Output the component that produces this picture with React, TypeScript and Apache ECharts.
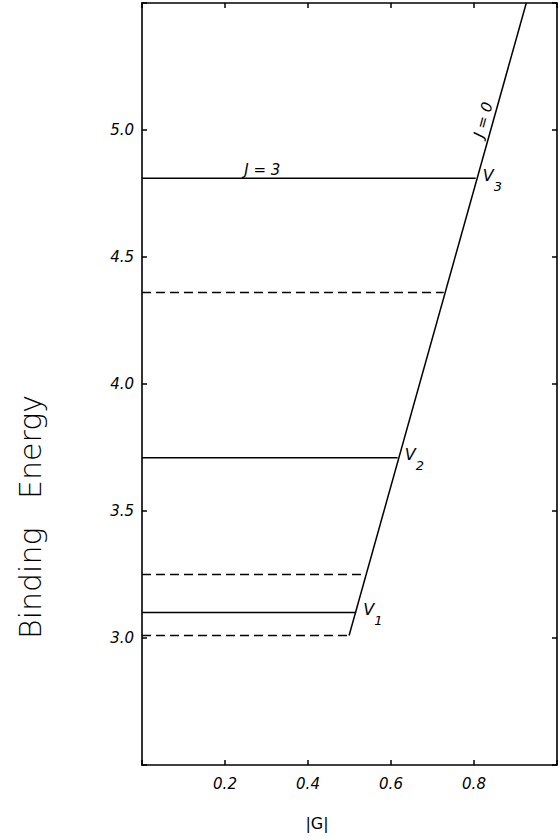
import { useEffect, useRef } from 'react';
import * as echarts from 'echarts';

// X axis: |G|, Y axis: Binding Energy
const xMin = 0;
const xMax = 1.0;
const xInterval = 0.2;
const yMin = 2.5;
const yMax = 5.5;
const yInterval = 0.5;
const xTickLabels = ['0.2', '0.4', '0.6', '0.8'];
const yTickLabels = ['3.0', '3.5', '4.0', '4.5', '5.0'];

// Solid levels (V3, V2, V1) and where they meet the J = 0 line
const solidLevels = [4.81, 3.71, 3.1];
const solidEnds = [0.804, 0.616, 0.516];
const solidNames = ['3', '2', '1'];

// Dashed levels
const dashedLevels = [4.36, 3.25, 3.01];
const dashedEnds = [0.727, 0.54, 0.499];

// J = 0 line
const jZeroX = [0.499, 0.926];
const jZeroY = [3.01, 5.5];

// annotation anchors (data coords)
const jThreeAnchor = [0.29, 4.81];
const jZeroAnchor = [0.844, 5.024];

const FONT = '"DejaVu Sans", sans-serif';

export default function App() {
  const ref = useRef<HTMLDivElement>(null);
  useEffect(() => {
    if (!ref.current) return;
    const chart = echarts.init(ref.current, undefined, { renderer: 'svg' });
    const axisLine = { show: true, onZero: false, lineStyle: { color: '#000', width: 1.6 } };
    const axisTick = { show: true, inside: true, length: 5, lineStyle: { color: '#000', width: 1.5 } };
    const series: any[] = [];
    solidLevels.forEach((lvl, i) => {
      series.push({
        type: 'line',
        symbol: 'none',
        silent: true,
        data: [
          [0, lvl],
          [solidEnds[i], lvl],
        ],
        lineStyle: { color: '#000', width: 1.5, type: 'solid' },
      });
    });
    dashedLevels.forEach((lvl, i) => {
      series.push({
        type: 'line',
        symbol: 'none',
        silent: true,
        data: [
          [0, lvl],
          [dashedEnds[i], lvl],
        ],
        lineStyle: { color: '#000', width: 1.5, type: [9, 5] },
      });
    });
    series.push({
      type: 'line',
      symbol: 'none',
      silent: true,
      data: jZeroX.map((x, i) => [x, jZeroY[i]]),
      lineStyle: { color: '#000', width: 1.5 },
    });

    chart.setOption({
      animation: false,
      backgroundColor: '#fff',
      grid: { left: 142, top: 3, width: 417, height: 762 },
      xAxis: [
        {
          type: 'value',
          min: xMin,
          max: xMax,
          interval: xInterval,
          position: 'bottom',
          axisLine,
          axisTick,
          splitLine: { show: false },
          axisLabel: {
            margin: 11,
            color: '#000',
            fontSize: 15,
            fontStyle: 'italic',
            fontFamily: FONT,
            formatter: (v: number) => {
              const s = v.toFixed(1);
              return xTickLabels.includes(s) ? s : '';
            },
          },
        },
        {
          type: 'value',
          min: xMin,
          max: xMax,
          interval: xInterval,
          position: 'top',
          axisLine,
          axisTick,
          splitLine: { show: false },
          axisLabel: { show: false },
        },
      ],
      yAxis: [
        {
          type: 'value',
          min: yMin,
          max: yMax,
          interval: yInterval,
          position: 'left',
          axisLine,
          axisTick,
          splitLine: { show: false },
          axisLabel: {
            margin: 8,
            color: '#000',
            fontSize: 15,
            fontStyle: 'italic',
            fontFamily: FONT,
            formatter: (v: number) => {
              const s = v.toFixed(1);
              return yTickLabels.includes(s) ? s : '';
            },
          },
        },
        {
          type: 'value',
          min: yMin,
          max: yMax,
          interval: yInterval,
          position: 'right',
          axisLine,
          axisTick,
          splitLine: { show: false },
          axisLabel: { show: false },
        },
      ],
      series,
    });

    const px = (x: number, y: number) =>
      chart.convertToPixel({ seriesIndex: 0 } as any, [x, y]) as number[];

    const graphic: any[] = [];
    solidLevels.forEach((lvl, i) => {
      const p = px(solidEnds[i], lvl);
      graphic.push({
        type: 'text',
        x: p[0] + 7,
        y: p[1] - 3,
        silent: true,
        style: {
          text: 'V',
          fill: '#000',
          fontSize: 16,
          fontStyle: 'italic',
          fontFamily: FONT,
          align: 'left',
          verticalAlign: 'middle',
        },
      });
      graphic.push({
        type: 'text',
        x: p[0] + 18,
        y: p[1] + 8,
        silent: true,
        style: {
          text: solidNames[i],
          fill: '#000',
          fontSize: 13,
          fontStyle: 'italic',
          fontFamily: FONT,
          align: 'left',
          verticalAlign: 'middle',
        },
      });
    });
    const j3 = px(jThreeAnchor[0], jThreeAnchor[1]);
    graphic.push({
      type: 'text',
      x: j3[0],
      y: j3[1] - 8,
      silent: true,
      style: {
        text: 'J = 3',
        fill: '#000',
        fontSize: 15,
        fontStyle: 'italic',
        fontFamily: FONT,
        align: 'center',
        verticalAlign: 'middle',
      },
    });
    const j0 = px(jZeroAnchor[0], jZeroAnchor[1]);
    graphic.push({
      type: 'text',
      x: j0[0] - 9,
      y: j0[1] - 4,
      rotation: (74.4 * Math.PI) / 180,
      silent: true,
      style: {
        text: 'J = 0',
        fill: '#000',
        fontSize: 15,
        fontStyle: 'italic',
        fontFamily: FONT,
        align: 'center',
        verticalAlign: 'middle',
      },
    });
    graphic.push({
      type: 'text',
      x: 30,
      y: 517,
      rotation: Math.PI / 2,
      silent: true,
      style: {
        text: 'Binding   Energy',
        fill: '#000',
        fontSize: 30,
        fontFamily: FONT,
        fontWeight: 'lighter',
        align: 'center',
        verticalAlign: 'middle',
      },
    });
    graphic.push({
      type: 'text',
      x: 317,
      y: 823,
      silent: true,
      style: {
        text: '|G|',
        fill: '#000',
        fontSize: 16,
        fontFamily: FONT,
        align: 'center',
        verticalAlign: 'middle',
      },
    });
    chart.setOption({ graphic });

    return () => chart.dispose();
  }, []);
  return (
    <div
      ref={ref}
      style={{ position: 'absolute', left: 0, top: 0, width: 560, height: 840 }}
    />
  );
}
